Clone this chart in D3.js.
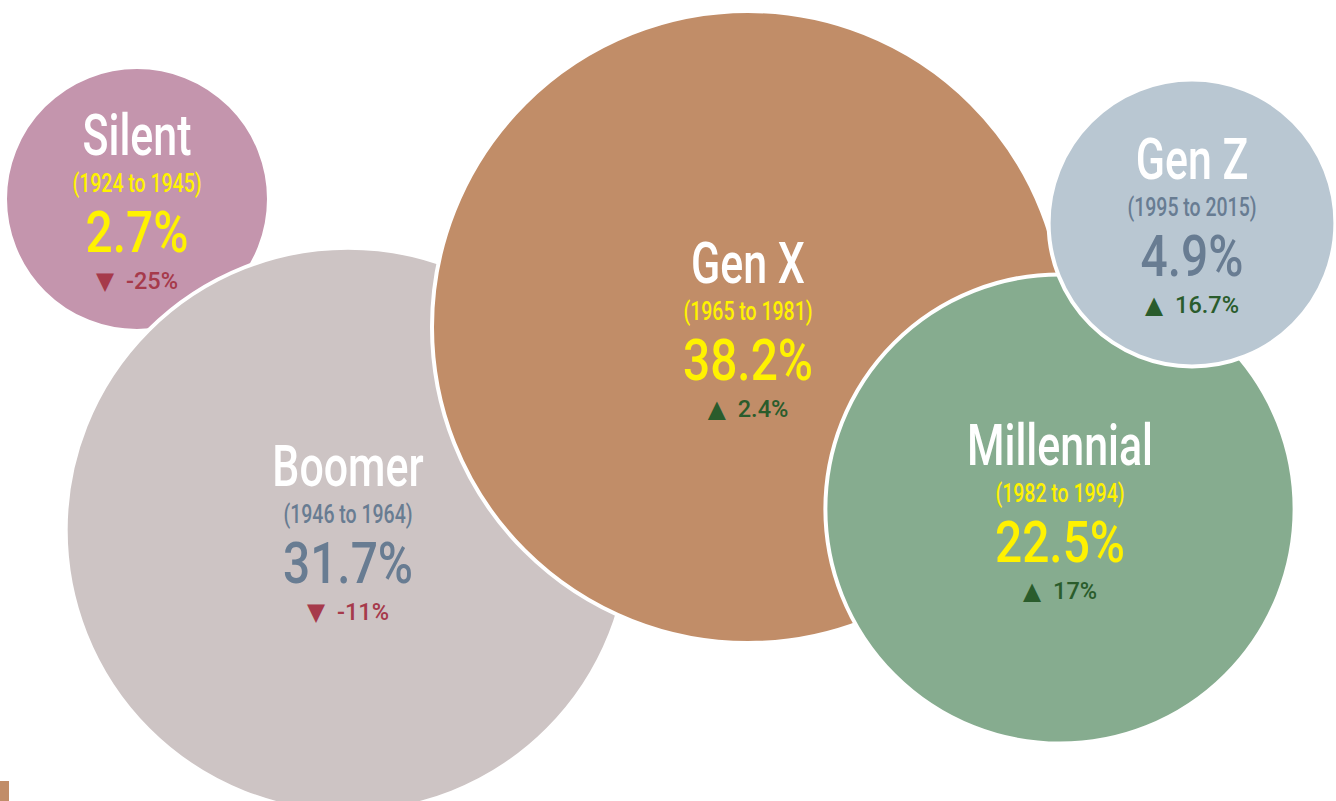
<!DOCTYPE html>
<html>
<head>
<meta charset="utf-8">
<script src="https://cdn.jsdelivr.net/npm/d3@7/dist/d3.min.js"></script>
<style>
  html, body { margin: 0; padding: 0; background: #ffffff; }
  svg { display: block; }
  text { font-family: "Roboto", "Noto Sans", "DejaVu Sans", sans-serif; }
</style>
</head>
<body>
<svg id="chart" width="1336" height="801"></svg>
<script>
// Generation share of the workforce, with change since last period
const generations = ["Silent", "Boomer", "Gen X", "Millennial", "Gen Z"];
const yearRanges  = ["1924 to 1945", "1946 to 1964", "1965 to 1981", "1982 to 1994", "1995 to 2015"];
const shares      = [2.7, 31.7, 38.2, 22.5, 4.9];   // percent
const changes     = [-25, -11, 2.4, 17, 16.7];      // percent change

// Styling per generation
const fills      = ["#c495ad", "#cdc4c4", "#c18d68", "#86ac8f", "#b9c7d2"];
const labelTones = ["#fff200", "#687c92", "#fff200", "#fff200", "#687c92"];

// Hand-placed bubble anchors (px) for the overlapping layout
const anchors = [[137, 199], [348, 530], [748, 327], [1060, 509], [1192, 223]];

const W = 1336, H = 801;
const svg = d3.select("#chart");

const rScale = d3.scaleLinear().domain([0, 38.2]).range([118, 316]);

const rows = generations.map((g, i) => ({
  name: g, years: yearRanges[i], share: shares[i], change: changes[i],
  fill: fills[i], tone: labelTones[i], cx: anchors[i][0], cy: anchors[i][1]
}));

// condensed look: squeeze glyphs horizontally around the anchor
const squeeze = { name: 0.74, years: 0.78, value: 0.84, change: 0.98 };

const g = svg.selectAll("g.bubble").data(rows).join("g")
  .attr("class", "bubble")
  .attr("transform", d => `translate(${d.cx},${d.cy})`);

g.append("circle")
  .attr("r", d => rScale(d.share))
  .attr("fill", d => d.fill)
  .attr("stroke", "#ffffff")
  .attr("stroke-width", 4);

function line(cls, dy, size, weight, colorFn, textFn) {
  g.append("text")
    .attr("class", cls)
    .attr("text-anchor", "middle")
    .attr("transform", `translate(0,${dy}) scale(${squeeze[cls]},1)`)
    .attr("font-size", size)
    .attr("font-weight", weight)
    .attr("fill", colorFn)
    .text(textFn);
}

line("name",   -44, 58, 500, "#ffffff", d => d.name);
line("years",   -7, 25, 500, d => d.tone, d => `(${d.years})`);
line("value",   53, 57, 500, d => d.tone, d => `${d.share}%`);
line("change",  90, 24, 500,
     d => d.change < 0 ? "#a63a4b" : "#2a5c2c",
     d => `${d.change < 0 ? "\u25BC" : "\u25B2"}\u2002${d.change}%`);

// corner swatch
svg.append("rect")
  .attr("x", 0).attr("y", H - 20)
  .attr("width", 9).attr("height", 20)
  .attr("fill", fills[2]);
</script>
</body>
</html>
